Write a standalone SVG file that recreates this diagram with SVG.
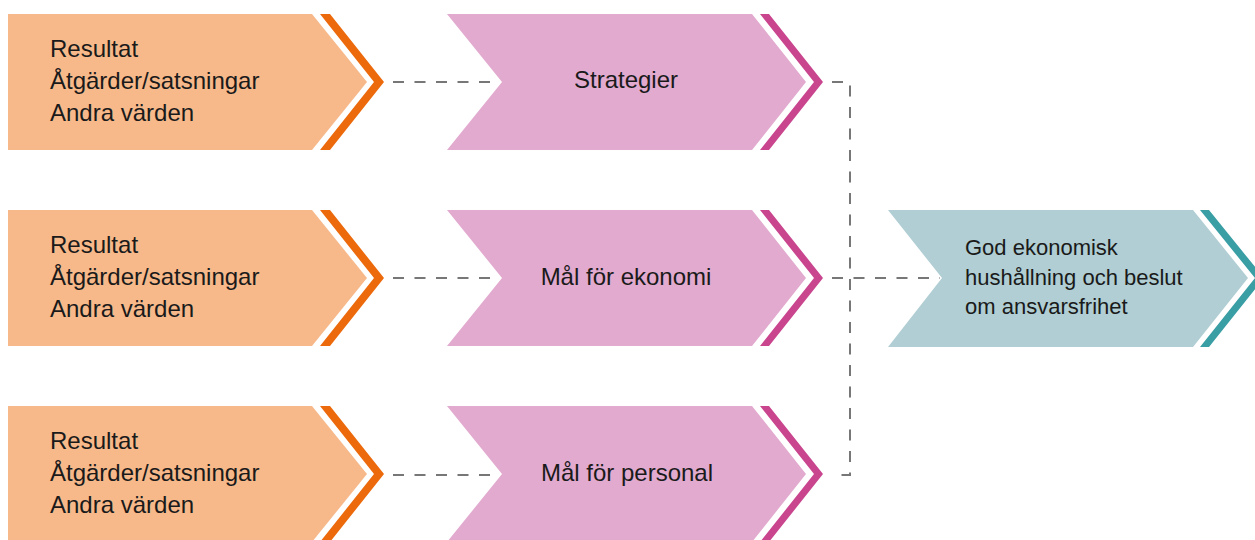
<svg xmlns="http://www.w3.org/2000/svg" width="1255" height="540" viewBox="0 0 1255 540">
<style>
.orb{fill:#F7B98A}.ors{fill:#EC6A0C}
.pkb{fill:#E2AACF}.pks{fill:#C9468F}
.tlb{fill:#B0CED3}.tls{fill:#3A9EA5}
.t{font-family:"Liberation Sans",Arial,sans-serif;font-size:24px;fill:#1a1a1a}
.tc{text-anchor:middle}
.s{font-size:22px}
.d{fill:none;stroke:#777;stroke-width:2;stroke-dasharray:11 10.5}
</style>
<defs>
<polygon id="src" points="8,0 312,0 367,68 312,136 8,136"/>
<polygon id="srcs" points="320,0 330,0 384,68 330,136 320,136 374,68"/>
<polygon id="mid" points="447,0 752,0 806,68 752,136 447,136 502,68"/>
<polygon id="mids" points="760,0 769,0 823,68 769,136 760,136 814,68"/>
</defs>
<rect width="1255" height="540" fill="#fff"/>
<g id="connectors">
<path class="d" d="M393,82H500"/>
<path class="d" d="M393,278H500"/>
<path class="d" d="M393,475H500"/>
<path class="d" d="M832,82H850V475H832"/>
<path class="d" d="M832,278H940"/>
</g>
<g id="src1">
<use href="#src" class="orb" y="14"/><use href="#srcs" class="ors" y="14"/>
<text class="t" x="50" y="57">Resultat</text>
<text class="t" x="50" y="89">Åtgärder/satsningar</text>
<text class="t" x="50" y="121">Andra värden</text>
</g>
<g id="src2">
<use href="#src" class="orb" y="210"/><use href="#srcs" class="ors" y="210"/>
<text class="t" x="50" y="253">Resultat</text>
<text class="t" x="50" y="285">Åtgärder/satsningar</text>
<text class="t" x="50" y="317">Andra värden</text>
</g>
<g id="src3">
<use href="#src" class="orb" y="406"/><use href="#srcs" class="ors" y="406"/>
<text class="t" x="50" y="449">Resultat</text>
<text class="t" x="50" y="481">Åtgärder/satsningar</text>
<text class="t" x="50" y="513">Andra värden</text>
</g>
<g id="strategier">
<use href="#mid" class="pkb" y="14"/><use href="#mids" class="pks" y="14"/>
<text class="t tc" x="626" y="88">Strategier</text>
</g>
<g id="ekonomi">
<use href="#mid" class="pkb" y="210"/><use href="#mids" class="pks" y="210"/>
<text class="t tc" x="626" y="285">Mål för ekonomi</text>
</g>
<g id="personal">
<use href="#mid" class="pkb" y="406"/><use href="#mids" class="pks" y="406"/>
<text class="t tc" x="627" y="481">Mål för personal</text>
</g>
<g id="god">
<polygon class="tlb" points="888,210 1193,210 1248,278 1193,347 888,347 942,278"/>
<polygon class="tls" points="1200,210 1209,210 1264,278 1209,347 1200,347 1255,278"/>
<text class="t s" x="965" y="255">God ekonomisk</text>
<text class="t s" x="965" y="285">hushållning och beslut</text>
<text class="t s" x="965" y="314">om ansvarsfrihet</text>
</g>
</svg>
